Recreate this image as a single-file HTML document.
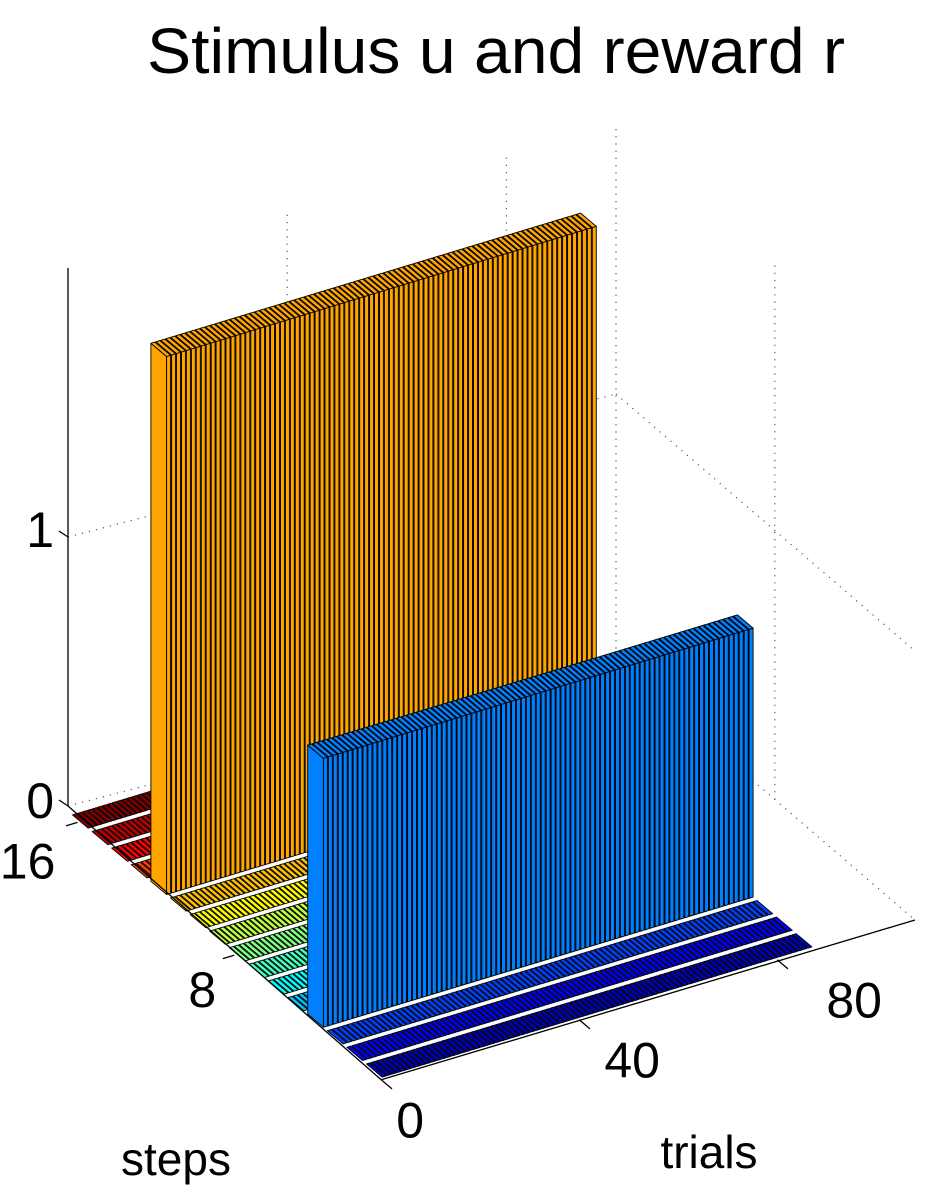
<!DOCTYPE html>
<html><head><meta charset="utf-8"><style>
html,body{margin:0;padding:0;background:#fff;}
svg{display:block;}
text{font-family:"Liberation Sans",Arial,sans-serif;fill:#000;}
</style></head><body>
<svg id="chart" width="931" height="1195" viewBox="0 0 931 1195" xmlns="http://www.w3.org/2000/svg">
<text x="496" y="73" font-size="64" text-anchor="middle" textLength="698" lengthAdjust="spacingAndGlyphs">Stimulus u and reward r</text>
<g id="grid"></g>
<g id="bars"></g>
<g id="axes"></g>
<text x="709" y="1168" font-size="46" text-anchor="middle">trials</text>
<text x="176" y="1175" font-size="46" text-anchor="middle">steps</text>
</svg>
<script>
// ---- data ----
const nTrials = 87;
const stepRows = [1,2,3,4,5,6,7,8,9,10,11,12,13,14,15,16];
const rewardStep = 4;
const stimulusStep = 12;
const rewardValues = [1,1,1,1,1,1,1,1,1,1,1,1,1,1,1,1,1,1,1,1,1,1,1,1,1,1,1,1,1,1,1,1,1,1,1,1,1,1,1,1,1,1,1,1,1,1,1,1,1,1,1,1,1,1,1,1,1,1,1,1,1,1,1,1,1,1,1,1,1,1,1,1,1,1,1,1,1,1,1,1,1,1,1,1,1,1,1];
const stimulusValues = [2,2,2,2,2,2,2,2,2,2,2,2,2,2,2,2,2,2,2,2,2,2,2,2,2,2,2,2,2,2,2,2,2,2,2,2,2,2,2,2,2,2,2,2,2,2,2,2,2,2,2,2,2,2,2,2,2,2,2,2,2,2,2,2,2,2,2,2,2,2,2,2,2,2,2,2,2,2,2,2,2,2,2,2,2,2,2];
const rowColors = ['#0000bf','#0000ff','#0040ff','#0080ff','#00bfff','#00ffff','#40ffbf','#80ff80','#bfff40','#ffff00','#ffc000','#ffa500','#ff4000','#ff0000','#bf0000','#800000'];
const xTicks = [0,40,80];
const xTickLabels = ['0','40','80'];
const yTicks = [8,16];
const yTickLabels = ['8','16'];
const zTicks = [0,1];
const zTickLabels = ['0','1'];
const xLim = [0,108], yLim = [0.5,16.5], zLim = [0,2];

// ---- projection ----
const A = [391,1088], TV=[4.95,-1.5], SV=[-19.6,-16.6], ZV=-269;
function P(t,s,z){return [A[0]+t*TV[0]+s*SV[0], A[1]+t*TV[1]+s*SV[1]+z*ZV];}
const BL=[68,806], BR=[616,663], FR=[915,920], BW=5.48;
function Pback(t,z){return [BL[0]+t*BW, BL[1]+(BR[1]-BL[1])*t*BW/(BR[0]-BL[0])+z*ZV];}
function Pright(s,z){const f=(yLim[1]-s)/(yLim[1]-yLim[0]);return [BR[0]+(FR[0]-BR[0])*f, BR[1]+(FR[1]-BR[1])*f+z*ZV];}
const NS='http://www.w3.org/2000/svg';
function poly(g,pts,fill,stroke,sw){
  const p=document.createElementNS(NS,'polygon');
  p.setAttribute('points',pts.map(q=>q[0].toFixed(1)+','+q[1].toFixed(1)).join(' '));
  p.setAttribute('fill',fill);p.setAttribute('stroke',stroke);p.setAttribute('stroke-width',sw);
  p.setAttribute('stroke-linejoin','round');
  g.appendChild(p);return p;
}
function line(g,a,b,stroke,sw,dash){
  const l=document.createElementNS(NS,'line');
  l.setAttribute('x1',a[0]);l.setAttribute('y1',a[1]);l.setAttribute('x2',b[0]);l.setAttribute('y2',b[1]);
  l.setAttribute('stroke',stroke);l.setAttribute('stroke-width',sw);
  if(dash)l.setAttribute('stroke-dasharray',dash);
  g.appendChild(l);return l;
}
function txt(g,x,y,s,anchor){
  const t=document.createElementNS(NS,'text');
  t.setAttribute('x',x);t.setAttribute('y',y);t.setAttribute('font-size','50');t.setAttribute('text-anchor',anchor);
  t.textContent=s;g.appendChild(t);return t;
}

// ---- grid ----
const grid=document.getElementById('grid');
const gd='1.2,6', gc='#555';
xTicks.forEach(t=>{
  if(t===0) return;
  const l=line(grid,Pback(t,zLim[0]),Pback(t,zLim[1]),gc,1.2,gd);
  
  
});
yTicks.forEach(s=>{
  if(s>=yLim[1]-1) return;
  const l=line(grid,Pright(s,zLim[0]),Pright(s,zLim[1]),gc,1.2,gd);
  
  
});
zTicks.forEach(z=>{
  let l=line(grid,Pback(0,z),Pright(yLim[1],z),gc,1.2,gd);
  
  
  l=line(grid,Pright(yLim[1],z),Pright(yLim[0],z),gc,1.2,gd);
  
  
});
let bv=line(grid,Pright(yLim[1],zLim[0]),Pright(yLim[1],zLim[1]),gc,1.2,gd);


let za=line(grid,Pback(0,zLim[0]),Pback(0,zLim[1]),'#000',1.3);



// ---- bars ----
const barsG=document.getElementById('bars');
function valueAt(row,i){
  if(row===rewardStep) return rewardValues[i];
  if(row===stimulusStep) return stimulusValues[i];
  return 0;
}
const w=0.4;
for(let r=stepRows.length-1;r>=0;r--){
  const s=stepRows[r], col=rowColors[r];
  const rowG=document.createElementNS(NS,'g');
  
  
  barsG.appendChild(rowG);
  for(let i=nTrials-1;i>=0;i--){
    const t=i+1, h=valueAt(s,i);
    const g=document.createElementNS(NS,'g');
    
    
    rowG.appendChild(g);
    const t0=t-w,t1=t+w,s0=s-w,s1=s+w;
    if(h>0){
      poly(g,[P(t0,s0,0),P(t0,s1,0),P(t0,s1,h),P(t0,s0,h)],col,'#000',0.9);
      poly(g,[P(t0,s0,0),P(t1,s0,0),P(t1,s0,h),P(t0,s0,h)],col,'#000',0.9);
    }
    poly(g,[P(t0,s0,h),P(t1,s0,h),P(t1,s1,h),P(t0,s1,h)],col,'#000',0.9);
  }
}

// ---- axes ----
const ax=document.getElementById('axes');
let xa=line(ax,P(xLim[0],yLim[0],0),FR,'#000',1.3);


let ya=line(ax,P(xLim[0],yLim[0],0),Pback(0,0),'#000',1.3);


xTicks.forEach((t,k)=>{
  const a=P(t,yLim[0],0), b=P(t,yLim[0]-0.55,0);
  const l=line(ax,a,b,'#000',1.3);
  
  
  const lab=txt(ax,a[0]+29+0.6*t,a[1]+58,xTickLabels[k],'middle');
  
  
});
yTicks.forEach((s,k)=>{
  const a=P(xLim[0],s,0), b=P(xLim[0]-2.3,s,0);
  const l=line(ax,a,b,'#000',1.3);
  
  
  const lab=txt(ax,a[0]-(s>9?22:18),a[1]+(s>9?56:52),yTickLabels[k],'end');
  
  
});
zTicks.forEach((z,k)=>{
  const a=Pback(0,z), b=[a[0]-9,a[1]-6];
  const l=line(ax,a,b,'#000',1.3);
  
  
  const lab=txt(ax,a[0]-14,a[1]+(z===0?12:10),zTickLabels[k],'end');
  
  
});
</script>
</body></html>
